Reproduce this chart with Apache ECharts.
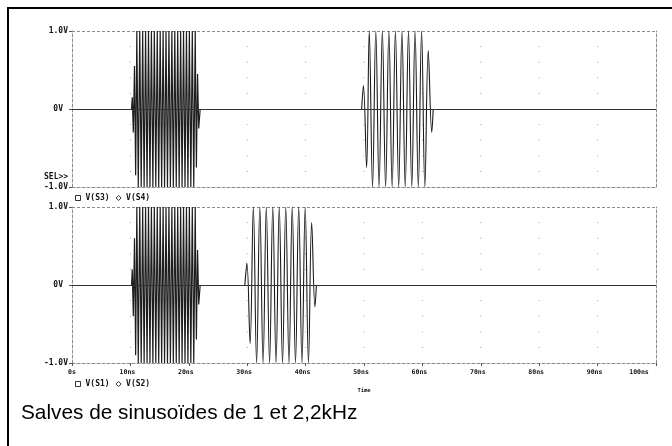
<!DOCTYPE html>
<html>
<head>
<meta charset="utf-8">
<script src="https://cdn.jsdelivr.net/npm/echarts@6/dist/echarts.min.js"></script>
<style>
html, body { margin: 0; padding: 0; background: #fff; }
#chart { width: 672px; height: 446px; }
</style>
</head>
<body>
<div id="chart"></div>
<script>
// axis ticks and labels
const timeTicks = [0, 10, 20, 30, 40, 50, 60, 70, 80, 90, 100]
const timeLabels = ['0s', '10ns', '20ns', '30ns', '40ns', '50ns', '60ns', '70ns', '80ns', '90ns', '100ns']
const voltTicks = [-1, 0, 1]
const voltLabels = ['-1.0V', '0V', '1.0V']
const dotVolts = [-0.8, -0.6, -0.4, -0.2, 0.2, 0.4, 0.6, 0.8]

// top plot: V(S3) fast burst, V(S4) slow burst (time in ns, value in V), peaks
const s3Time = [10.2, 10.32, 10.5, 10.7, 10.9,
  11.1, 11.35, 11.6, 11.85, 12.1, 12.35, 12.6, 12.85, 13.1, 13.35, 13.6, 13.85, 14.1, 14.35,
  14.6, 14.85, 15.1, 15.35, 15.6, 15.85, 16.1, 16.35, 16.6, 16.85, 17.1, 17.35, 17.6, 17.85,
  18.1, 18.35, 18.6, 18.85, 19.1, 19.35, 19.6, 19.85, 20.1, 20.35, 20.6, 20.85, 21.1,
  21.3, 21.5, 21.7, 21.95]
const s3Volt = [0, 0.15, -0.3, 0.55, -0.85,
  1, -1, 1, -1, 1, -1, 1, -1, 1, -1, 1, -1, 1, -1,
  1, -1, 1, -1, 1, -1, 1, -1, 1, -1, 1, -1, 1, -1,
  1, -1, 1, -1, 1, -1, 1, -1, 1, -1, 1, -1, 1,
  -0.75, 0.45, -0.25, 0]
const s4Time = [49.6, 49.9, 50.45, 50.9, 51.46, 52.02, 52.58, 53.14, 53.70, 54.26, 54.82, 55.38, 55.94, 56.50, 57.06, 57.62, 58.18, 58.74, 59.30, 59.86, 60.42, 61.0, 61.6, 61.85]
const s4Volt = [0, 0.3, -0.75, 1, -1, 1, -1, 1, -1, 1, -1, 1, -1, 1, -1, 1, -1, 1, -1, 1, -1, 0.75, -0.3, 0]

// bottom plot: V(S1) fast burst, V(S2) slow burst
const s1Time = [10.2, 10.32, 10.5, 10.7, 10.9,
  11.1, 11.35, 11.6, 11.85, 12.1, 12.35, 12.6, 12.85, 13.1, 13.35, 13.6, 13.85, 14.1, 14.35,
  14.6, 14.85, 15.1, 15.35, 15.6, 15.85, 16.1, 16.35, 16.6, 16.85, 17.1, 17.35, 17.6, 17.85,
  18.1, 18.35, 18.6, 18.85, 19.1, 19.35, 19.6, 19.85, 20.1, 20.35, 20.6, 20.85, 21.1,
  21.3, 21.5, 21.7, 21.95]
const s1Volt = [0, 0.2, -0.4, 0.6, -0.9,
  1, -1, 1, -1, 1, -1, 1, -1, 1, -1, 1, -1, 1, -1,
  1, -1, 1, -1, 1, -1, 1, -1, 1, -1, 1, -1, 1, -1,
  1, -1, 1, -1, 1, -1, 1, -1, 1, -1, 1, -1, 1,
  -0.7, 0.45, -0.25, 0]
const s2Time = [29.6, 29.95, 30.5, 31.05, 31.61, 32.16, 32.72, 33.27, 33.83, 34.38, 34.94, 35.49, 36.05, 36.60, 37.16, 37.71, 38.27, 38.82, 39.38, 39.93, 40.49, 41.04, 41.6, 41.85]
const s2Volt = [0, 0.28, -0.75, 1, -1, 1, -1, 1, -1, 1, -1, 1, -1, 1, -1, 1, -1, 1, -1, 1, -1, 0.8, -0.28, 0]

const MONO = 'DejaVu Sans Mono'
const FRAME = '#8a8a8a'
const pairs = (xs, ys) => xs.map((x, i) => [x, ys[i]])

const grids = [
  { left: 72, right: 16, top: 31, height: 156 },
  { left: 72, right: 16, top: 207, height: 156 }
]

const makeXAxis = (gi, withLabels) => ({
  gridIndex: gi,
  type: 'value',
  min: 0,
  max: 100,
  interval: 10,
  axisLine: { onZero: false, lineStyle: { color: FRAME, type: [3, 2], width: 1 } },
  axisTick: { show: withLabels, length: 3, lineStyle: { color: '#555' } },
  splitLine: { show: false },
  axisLabel: {
    show: withLabels,
    showMinLabel: true,
    showMaxLabel: true,
    margin: 6,
    formatter: v => {
      const lab = timeLabels[timeTicks.indexOf(v)]
      if (v === 0) return '{a|' + lab + '}'
      if (v === 100) return '{c|' + lab + '}'
      return '{b|' + lab + '}'
    },
    rich: {
      a: { fontFamily: MONO, fontWeight: 'bold', fontSize: 6.5, color: '#111' },
      b: { fontFamily: MONO, fontWeight: 'bold', fontSize: 6.5, color: '#111', padding: [0, 6, 0, 0] },
      c: { fontFamily: MONO, fontWeight: 'bold', fontSize: 6.5, color: '#111', padding: [0, 34, 0, 0] }
    }
  },
  name: withLabels ? 'Time' : '',
  nameLocation: 'middle',
  nameGap: 25,
  nameTextStyle: { fontFamily: MONO, fontWeight: 'bold', fontSize: 5.5, color: '#111' }
})

const makeYAxes = gi => [
  {
    gridIndex: gi,
    type: 'value',
    min: -1,
    max: 1,
    interval: 1,
    axisLine: { lineStyle: { color: FRAME, type: [3, 2], width: 1 } },
    axisTick: { show: true, length: 3, lineStyle: { color: '#555' } },
    splitLine: { show: true, lineStyle: { color: FRAME, type: [3, 2], width: 1 } },
    axisLabel: {
      margin: 4,
      formatter: v => {
        const lab = voltLabels[voltTicks.indexOf(v)]
        return v === 0 ? '{z|' + lab + '}' : '{n|' + lab + '}'
      },
      rich: {
        n: { fontFamily: MONO, fontWeight: 'bold', fontSize: 8, color: '#111' },
        z: { fontFamily: MONO, fontWeight: 'bold', fontSize: 8, color: '#111', padding: [0, 5, 0, 0] }
      }
    }
  },
  {
    gridIndex: gi,
    type: 'value',
    position: 'right',
    min: -1,
    max: 1,
    interval: 1,
    axisLine: { show: true, lineStyle: { color: FRAME, type: [3, 2], width: 1 } },
    axisTick: { show: false },
    axisLabel: { show: false },
    splitLine: { show: false }
  }
]

const dots = []
timeTicks.slice(1, -1).forEach(t => dotVolts.forEach(v => dots.push([t, v])))

const zeroLine = {
  silent: true,
  symbol: 'none',
  label: { show: false },
  lineStyle: { color: '#333', type: 'solid', width: 1 },
  data: [{ yAxis: 0 }]
}

const trace = (name, gi, data, color, width, smooth, withZero) => ({
  name,
  type: 'line',
  xAxisIndex: gi,
  yAxisIndex: gi * 2,
  data,
  showSymbol: false,
  symbol: 'none',
  smooth,
  clip: true,
  lineStyle: { color, width },
  itemStyle: { color },
  markLine: withZero ? zeroLine : undefined
})

const dotSeries = gi => ({
  type: 'scatter',
  xAxisIndex: gi,
  yAxisIndex: gi * 2,
  data: dots,
  symbolSize: 1.2,
  silent: true,
  itemStyle: { color: '#9a9a9a' }
})

const legendStyle = (top, names) => ({
  left: 70,
  top,
  itemWidth: 5,
  itemHeight: 5,
  itemGap: 6,
  selectedMode: false,
  textStyle: { fontFamily: MONO, fontWeight: 'bold', fontSize: 8, color: '#111' },
  data: [
    { name: names[0], icon: 'rect', itemStyle: { color: '#fff', borderColor: '#333', borderWidth: 1 } },
    { name: names[1], icon: 'diamond', itemStyle: { color: '#fff', borderColor: '#333', borderWidth: 1 } }
  ]
})

const chart = echarts.init(document.getElementById('chart'))
chart.setOption({
  animation: false,
  backgroundColor: '#fff',
  title: [
    {
      text: 'Salves de sinusoïdes de 1 et 2,2kHz',
      left: 21,
      top: 403,
      padding: 0,
      textStyle: { fontFamily: 'Liberation Sans', fontWeight: 'normal', fontSize: 20.8, color: '#000' }
    },
    {
      text: 'SEL>>',
      left: 44,
      top: 173,
      padding: 0,
      textStyle: { fontFamily: MONO, fontWeight: 'bold', fontSize: 8, color: '#111' }
    }
  ],
  legend: [
    legendStyle(189, ['V(S3)', 'V(S4)']),
    legendStyle(375, ['V(S1)', 'V(S2)'])
  ],
  grid: grids,
  xAxis: [makeXAxis(0, false), makeXAxis(1, true)],
  yAxis: [...makeYAxes(0), ...makeYAxes(1)],
  series: [
    dotSeries(0),
    dotSeries(1),
    trace('V(S3)', 0, pairs(s3Time, s3Volt), '#1e1e1e', 1.2, false, true),
    trace('V(S4)', 0, pairs(s4Time, s4Volt), '#1a1a1a', 1.1, 0.4, false),
    trace('V(S1)', 1, pairs(s1Time, s1Volt), '#1e1e1e', 1.2, false, true),
    trace('V(S2)', 1, pairs(s2Time, s2Volt), '#1a1a1a', 1.1, 0.4, false)
  ],
  graphic: [
    { type: 'line', shape: { x1: 7, y1: 8, x2: 672, y2: 8 }, style: { stroke: '#000', lineWidth: 2 } },
    { type: 'line', shape: { x1: 8, y1: 7, x2: 8, y2: 446 }, style: { stroke: '#000', lineWidth: 2 } }
  ]
})
</script>
</body>
</html>
